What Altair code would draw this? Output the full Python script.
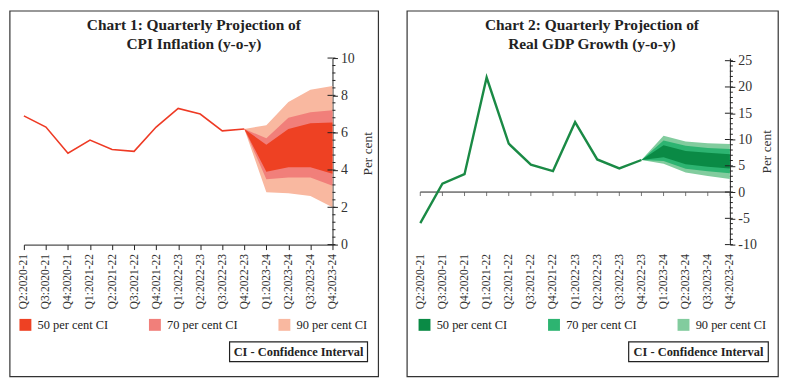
import altair as alt
import pandas as pd

# ---------------- data ----------------
quarters = ["Q2:2020-21", "Q3:2020-21", "Q4:2020-21", "Q1:2021-22", "Q2:2021-22",
            "Q3:2021-22", "Q4:2021-22", "Q1:2022-23", "Q2:2022-23", "Q3:2022-23",
            "Q4:2022-23", "Q1:2023-24", "Q2:2023-24", "Q3:2023-24", "Q4:2023-24"]
hist_q = quarters[:11]
fan_q = quarters[10:]

cpi_actual = [6.9, 6.3, 4.9, 5.6, 5.1, 5.0, 6.3, 7.3, 7.0, 6.1, 6.2]
gdp_actual = [-5.9, 1.6, 3.4, 21.8, 9.2, 5.2, 4.0, 13.3, 6.2, 4.5, 6.1]

cpi_l90 = [6.2, 2.8, 2.75, 2.6, 2.0]
cpi_l70 = [6.2, 3.5, 3.6, 3.6, 3.15]
cpi_l50 = [6.2, 3.9, 4.15, 4.15, 3.8]
cpi_u50 = [6.2, 5.35, 6.2, 6.5, 6.55]
cpi_u70 = [6.2, 5.7, 6.8, 7.1, 7.2]
cpi_u90 = [6.2, 6.4, 7.65, 8.3, 8.5]

gdp_l90 = [6.1, 5.4, 3.7, 3.05, 2.5]
gdp_l70 = [6.1, 5.9, 4.45, 3.95, 3.6]
gdp_l50 = [6.1, 6.6, 5.3, 4.8, 4.5]
gdp_u50 = [6.1, 8.9, 7.8, 7.5, 7.2]
gdp_u70 = [6.1, 9.8, 8.8, 8.4, 8.2]
gdp_u90 = [6.1, 10.7, 9.6, 9.3, 9.15]

band_names = ["50 per cent CI", "70 per cent CI", "90 per cent CI"]
cpi_colors = ["#EE4123", "#F17F7A", "#F9B8A0"]
gdp_colors = ["#0A8A45", "#2DB471", "#82CC9E"]

cpi_title = ["Chart 1: Quarterly Projection of", "CPI Inflation (y-o-y)"]
gdp_title = ["Chart 2: Quarterly Projection of", "Real GDP Growth (y-o-y)"]
y_title = "Per cent"
ci_note = "CI - Confidence Interval"

cpi_minor = [round(i * 0.4, 1) for i in range(26)]
cpi_major = [0, 2, 4, 6, 8, 10]
gdp_minor = list(range(-10, 26))
gdp_major = [-10, -5, 0, 5, 10, 15, 20, 25]

FONT = "Liberation Serif"
H = 188
INK = "#222222"


def one():
    return alt.Data(values=[{"k": 1}])


def panel(actual, lows, highs, colors, line_color, line_w, ydom, minor, major,
          title_lines, width, title_x, frame, legend_x, box, y_title_x, y_title_y,
          zero_line):
    xs = alt.Scale(type="point", domain=quarters, padding=0)
    ys = alt.Scale(domain=ydom, nice=False, zero=False)

    if zero_line:
        xaxis = alt.Axis(title=None, labelAngle=-90, domain=False, ticks=False, tickSize=0,
                         labelPadding=9, labelFont=FONT, labelFontSize=11.5,
                         labelColor="#333333", grid=False, labelOverlap=False)
    else:
        xaxis = alt.Axis(title=None, labelAngle=-90, domainColor=INK, tickColor=INK,
                         tickSize=5, labelPadding=4, labelFont=FONT, labelFontSize=11.5,
                         labelColor="#333333", grid=False, labelOverlap=False)
    yaxis = alt.Axis(orient="right", values=major, tickSize=5,
                     tickColor=INK, domainColor=INK, labelPadding=3, labelFont=FONT,
                     labelFontSize=14, labelColor="#333333", grid=False,
                     labelExpr="'' + datum.value",
                     labelOverlap=False, labelBound=False, labelFlush=False,
                     title=y_title, titleAngle=270, titleFont=FONT, titleFontSize=13.5,
                     titleFontWeight="normal", titleColor="#333333", titleX=y_title_x,
                     titleY=y_title_y, titleAlign="center", titleBaseline="middle")

    hist = pd.DataFrame({"q": hist_q, "v": actual})

    color = alt.Color("band:N",
                      scale=alt.Scale(domain=band_names, range=colors),
                      legend=alt.Legend(orient="none", legendX=legend_x, legendY=262.5,
                                        direction="horizontal", columns=3, title=None,
                                        symbolType="square", symbolSize=144,
                                        symbolStrokeWidth=0, symbolOpacity=1,
                                        labelFont=FONT, labelFontSize=12.5,
                                        labelColor=INK, labelOffset=6,
                                        columnPadding=40.5, padding=0))

    layers = []
    # panel frame
    layers.append(alt.Chart(one()).mark_rect(fill="#ffffff", fillOpacity=0, stroke="#333333",
                                             strokeWidth=1.2).encode(
        x=alt.value(frame[0]), x2=alt.value(frame[1]),
        y=alt.value(frame[2]), y2=alt.value(frame[3])))

    # fan bands: 90 first, 50 on top
    for i in [2, 1, 0]:
        df = pd.DataFrame({"q": fan_q, "lo": lows[i], "hi": highs[i], "band": band_names[i]})
        layers.append(alt.Chart(df).mark_area(opacity=1, interpolate="linear").encode(
            x=alt.X("q:N", scale=xs, axis=xaxis, sort=quarters),
            y=alt.Y("lo:Q", scale=ys, axis=yaxis),
            y2="hi:Q",
            color=color))

    if zero_line:
        layers.append(alt.Chart(one()).mark_rule(color=INK, strokeWidth=1).encode(
            y=alt.datum(0, scale=ys, axis=yaxis)))
        qdf = pd.DataFrame({"q": quarters})
        layers.append(alt.Chart(qdf).mark_rule(color="#555555", strokeWidth=0.8,
                                               y2Offset=4).encode(
            x=alt.X("q:N", scale=xs, axis=xaxis, sort=quarters),
            y=alt.datum(0, scale=ys, axis=yaxis), y2=alt.datum(0)))

    layers.append(alt.Chart(hist).mark_line(color=line_color, strokeWidth=line_w).encode(
        x=alt.X("q:N", scale=xs, axis=xaxis, sort=quarters),
        y=alt.Y("v:Q", scale=ys, axis=yaxis)))

    # minor ticks on the right of the y axis
    ndf = pd.DataFrame({"m": minor})
    layers.append(alt.Chart(ndf).mark_rule(color=INK, strokeWidth=1).encode(
        y=alt.Y("m:Q", scale=ys, axis=yaxis),
        x=alt.value(width), x2=alt.value(width + 3)))
    # major ticks also extend inside the plot
    mdf = pd.DataFrame({"m": major})
    layers.append(alt.Chart(mdf).mark_rule(color=INK, strokeWidth=1).encode(
        y=alt.Y("m:Q", scale=ys, axis=yaxis),
        x=alt.value(width - 5), x2=alt.value(width)))

    # title
    layers.append(alt.Chart(one()).mark_text(
        text=title_lines, font=FONT, fontSize=15.5, fontWeight="bold", color=INK,
        lineHeight=19, align="center", baseline="alphabetic").encode(
        x=alt.value(title_x), y=alt.value(-28)))

    # CI note box
    layers.append(alt.Chart(one()).mark_rect(fill="#ffffff", fillOpacity=0, stroke=INK,
                                             strokeWidth=1.2).encode(
        x=alt.value(box[0]), x2=alt.value(box[1]),
        y=alt.value(286), y2=alt.value(306)))
    layers.append(alt.Chart(one()).mark_text(
        text=ci_note, font=FONT, fontSize=12.5, fontWeight="bold", color=INK,
        align="center", baseline="alphabetic").encode(
        x=alt.value((box[0] + box[1]) / 2), y=alt.value(300.5)))

    return alt.layer(*layers).properties(width=width, height=H)


c1 = panel(cpi_actual, [cpi_l50, cpi_l70, cpi_l90], [cpi_u50, cpi_u70, cpi_u90],
           cpi_colors, "#EE3A24", 1.6, [0, 10], cpi_minor, cpi_major,
           cpi_title, 311, 171.3, (-14.1, 357.3, -47.4, 321), -4.7, (207.3, 346.3),
           35, 96, False)
c2 = panel(gdp_actual, [gdp_l50, gdp_l70, gdp_l90], [gdp_u50, gdp_u70, gdp_u90],
           gdp_colors, "#1A8A45", 2.4, [-10, 25.5], gdp_minor, gdp_major,
           gdp_title, 312, 173, (-13.3, 360.7, -47.4, 321), -2, (210, 350.7),
           37, 94, True)

chart = alt.hconcat(c1, c2, spacing=25.5).resolve_scale(
    color="independent", x="independent", y="independent").properties(
    padding=0, background="#ffffff").configure_view(stroke="transparent")

chart.save("out.html", embed_options={"renderer": "svg", "actions": False})
